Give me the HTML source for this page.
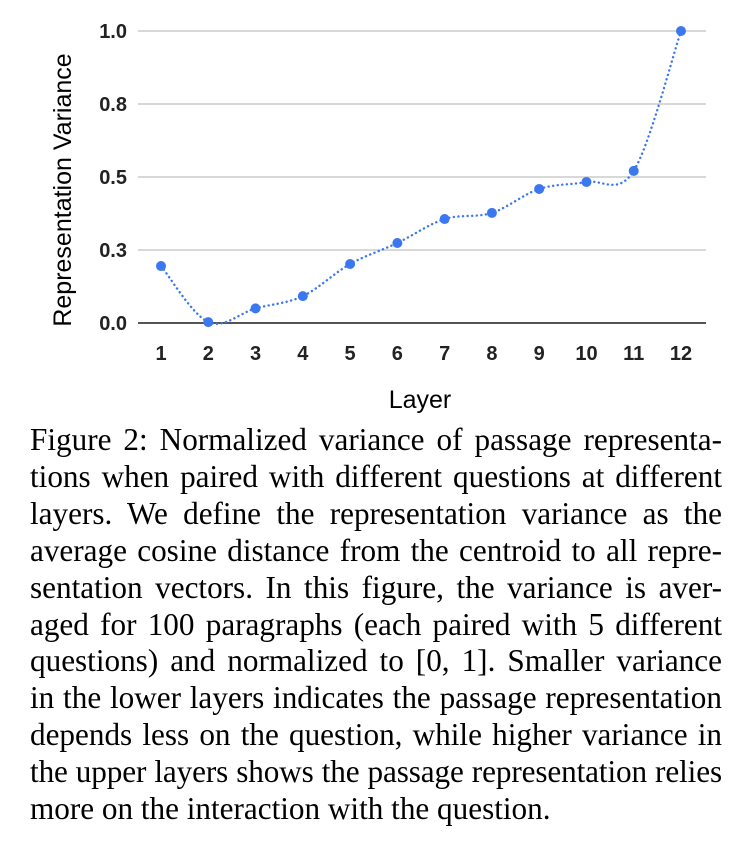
<!DOCTYPE html>
<html><head><meta charset="utf-8"><style>
body{margin:0;background:#fff;width:743px;height:844px;overflow:hidden;position:relative}
svg{position:absolute;left:0;top:0}
#caption{position:absolute;left:30px;top:422px;width:692px;font-family:"Liberation Serif",serif;font-size:31.2px;line-height:36.9px;color:#000}
#caption div{text-align:justify;text-align-last:justify;white-space:nowrap;overflow:visible}
#caption div.last{text-align-last:left}
#caption div.tight{word-spacing:-2px;letter-spacing:-0.1px}
</style></head><body>
<svg id="chart" width="743" height="420" font-family="Liberation Sans, sans-serif"></svg>
<div id="caption">
<div>Figure 2: Normalized variance of passage representa-</div>
<div>tions when paired with different questions at different</div>
<div>layers. We define the representation variance as the</div>
<div>average cosine distance from the centroid to all repre-</div>
<div>sentation vectors. In this figure, the variance is aver-</div>
<div>aged for 100 paragraphs (each paired with 5 different</div>
<div>questions) and normalized to [0, 1]. Smaller variance</div>
<div>in the lower layers indicates the passage representation</div>
<div>depends less on the question, while higher variance in</div>
<div class="tight">the upper layers shows the passage representation relies</div>
<div class="last">more on the interaction with the question.</div>
</div>
<script>
const layers=[1,2,3,4,5,6,7,8,9,10,11,12];
const variance=[0.195,0.003,0.05,0.092,0.202,0.274,0.356,0.377,0.459,0.483,0.521,1.0];
const yTicks=[0,0.25,0.5,0.75,1.0];
const yTickLabels=["0.0","0.3","0.5","0.8","1.0"];
const NS="http://www.w3.org/2000/svg";
const svg=document.getElementById('chart');
const x=l=>161+(l-1)*(681-161)/11;
const y=v=>323-v*292;
function mk(t,a,p){const e=document.createElementNS(NS,t);for(const k in a)e.setAttribute(k,a[k]);(p||svg).appendChild(e);return e;}
yTicks.forEach((t,i)=>{
 const g=mk('line',{x1:138,x2:706,y1:y(t),y2:y(t),stroke:i==0?'#555':'#ccc','stroke-width':i==0?2:1.5});
 
 
 const tx=mk('text',{x:127,y:y(t)+7,'text-anchor':'end','font-size':20,'font-weight':'bold',fill:'#222'});
 tx.textContent=yTickLabels[i];
 
 
});
layers.forEach(l=>{
 const tx=mk('text',{x:x(l),y:360,'text-anchor':'middle','font-size':20,'font-weight':'bold',fill:'#222'});
 tx.textContent=l;
 
 
});
const xt=mk('text',{x:420,y:408,'text-anchor':'middle','font-size':25,fill:'#000'});xt.textContent='Layer';


const yt=mk('text',{x:0,y:0,'text-anchor':'middle','font-size':25,fill:'#000',transform:'translate(71,190) rotate(-90)'});yt.textContent='Representation Variance';


const P=layers.map((l,i)=>[x(l),y(variance[i])]);
let d='M'+P[0][0]+','+P[0][1];
for(let i=0;i<P.length-1;i++){const p0=P[Math.max(0,i-1)],p1=P[i],p2=P[i+1],p3=P[Math.min(P.length-1,i+2)];
 const c1=[p1[0]+(p2[0]-p0[0])/6,p1[1]+(p2[1]-p0[1])/6],c2=[p2[0]-(p3[0]-p1[0])/6,p2[1]-(p3[1]-p1[1])/6];
 d+=` C${c1[0]},${c1[1]} ${c2[0]},${c2[1]} ${p2[0]},${p2[1]}`;}
const line=mk('path',{d,fill:'none',stroke:'#3b78f0','stroke-width':2.4,'stroke-dasharray':'0.1 4.5','stroke-linecap':'round'});


P.forEach(p=>{const c=mk('circle',{cx:p[0],cy:p[1],r:5,fill:'#3b78f0'});
 
 });
</script>
</body></html>
